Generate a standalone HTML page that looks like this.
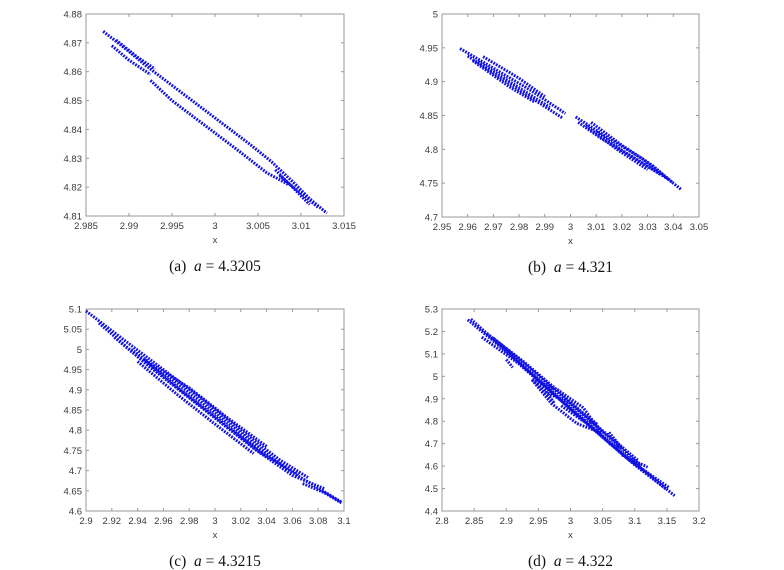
<!DOCTYPE html>
<html><head><meta charset="utf-8"><style>
html,body{margin:0;padding:0;background:#fff;}
svg{display:block;}
.tk{font-family:"Liberation Sans",sans-serif;font-size:9.5px;fill:#3a3a3a;}
.cap{font-family:"Liberation Serif",serif;font-size:15.5px;fill:#111;}
</style></head><body>
<svg id="fig" width="784" height="570" viewBox="0 0 784 570" xmlns="http://www.w3.org/2000/svg"></svg>
<script>
// ---- data ----
const panelNames = ["a","b","c","d"];
const captionValues = ["4.3205","4.321","4.3215","4.322"];
const xTicksA = [2.985,2.99,2.995,3,3.005,3.01,3.015];
const yTicksA = [4.81,4.82,4.83,4.84,4.85,4.86,4.87,4.88];
const xTicksB = [2.95,2.96,2.97,2.98,2.99,3,3.01,3.02,3.03,3.04,3.05];
const yTicksB = [4.7,4.75,4.8,4.85,4.9,4.95,5];
const xTicksC = [2.9,2.92,2.94,2.96,2.98,3,3.02,3.04,3.06,3.08,3.1];
const yTicksC = [4.6,4.65,4.7,4.75,4.8,4.85,4.9,4.95,5,5.05,5.1];
const xTicksD = [2.8,2.85,2.9,2.95,3,3.05,3.1,3.15,3.2];
const yTicksD = [4.4,4.5,4.6,4.7,4.8,4.9,5,5.1,5.2,5.3];
// strands: [x,y] pairs in data units
const strandsA = [
 [[2.987,4.874],[2.990,4.867],[2.992,4.862],[2.996,4.853],[3.000,4.844],[3.004,4.835],[3.0065,4.829],[3.009,4.822],[3.011,4.816],[3.013,4.811]],
 [[2.9925,4.857],[2.995,4.850],[2.999,4.841],[3.003,4.832],[3.006,4.825],[3.0085,4.821]],
 [[2.988,4.869],[2.990,4.864],[2.9925,4.859]],
 [[2.9885,4.871],[2.991,4.865],[2.993,4.861]],
 [[3.007,4.826],[3.009,4.820],[3.011,4.814]],
 [[3.0075,4.824],[3.0095,4.819],[3.012,4.813]]
];
const strandsB = [
 [[2.957,4.949],[2.970,4.920],[2.985,4.886],[2.998,4.853]],
 [[2.960,4.938],[2.975,4.900],[2.988,4.868],[2.997,4.846]],
 [[2.964,4.930],[2.978,4.896],[2.992,4.862]],
 [[2.966,4.937],[2.980,4.905],[2.990,4.878]],
 [[2.962,4.931],[2.976,4.893],[2.986,4.870]],
 [[3.002,4.848],[3.015,4.816],[3.028,4.786],[3.043,4.741]],
 [[3.003,4.840],[3.012,4.816],[3.025,4.787],[3.038,4.756]],
 [[3.008,4.840],[3.020,4.806],[3.032,4.776],[3.040,4.750]],
 [[3.010,4.826],[3.022,4.793],[3.035,4.763]],
 [[3.006,4.835],[3.018,4.800],[3.030,4.770]]
];
const strandsC = [
 [[2.900,5.095],[2.930,5.022],[2.960,4.950],[2.990,4.877],[3.020,4.800],[3.050,4.727],[3.072,4.683]],
 [[2.910,5.065],[2.940,4.983],[2.970,4.905],[3.000,4.830],[3.030,4.755],[3.060,4.688],[3.085,4.655]],
 [[2.922,5.030],[2.950,4.955],[2.980,4.882],[3.010,4.805],[3.040,4.740]],
 [[2.935,5.000],[2.965,4.930],[2.995,4.855],[3.025,4.780],[3.055,4.705],[3.098,4.622]],
 [[2.945,4.975],[2.975,4.895],[3.005,4.822],[3.035,4.745],[3.065,4.690]],
 [[2.950,4.965],[2.980,4.905],[3.010,4.830],[3.040,4.760]],
 [[2.940,4.970],[2.970,4.890],[3.000,4.815],[3.030,4.742]],
 [[3.068,4.668],[3.085,4.645],[3.098,4.620]]
];
const strandsD = [
 [[2.840,5.252],[2.900,5.110],[2.960,4.960],[3.020,4.810],[3.080,4.660],[3.162,4.468]],
 [[2.845,5.255],[2.905,5.100],[2.965,4.945],[3.025,4.790],[3.090,4.630],[3.153,4.505]],
 [[2.862,5.175],[2.920,5.055],[2.980,4.905],[3.040,4.755],[3.100,4.605],[3.150,4.495]],
 [[2.870,5.190],[2.925,5.070],[2.985,4.925],[3.045,4.770],[3.105,4.625]],
 [[2.880,5.170],[2.935,5.040],[2.995,4.890],[3.055,4.740],[3.110,4.600]],
 [[2.900,5.075],[2.910,5.040]],
 [[2.940,4.985],[2.975,4.880],[2.960,4.940],[2.940,4.985]],
 [[2.940,4.985],[2.980,4.940],[3.020,4.860],[3.048,4.748],[3.010,4.790],[2.970,4.880],[2.940,4.985]],
 [[2.960,4.930],[3.000,4.880],[3.040,4.790],[3.020,4.800],[2.985,4.870]],
 [[3.060,4.750],[3.080,4.680],[3.060,4.700]],
 [[3.080,4.650],[3.120,4.595]]
];
const panels = [
 {xt:xTicksA,yt:yTicksA,s:strandsA,L:86,R:344,T:14,B:216,lab:"(a)"},
 {xt:xTicksB,yt:yTicksB,s:strandsB,L:442,R:699,T:14,B:217,lab:"(b)"},
 {xt:xTicksC,yt:yTicksC,s:strandsC,L:86,R:344,T:309,B:511,lab:"(c)"},
 {xt:xTicksD,yt:yTicksD,s:strandsD,L:442,R:699,T:309,B:511,lab:"(d)"}
];
const NS="http://www.w3.org/2000/svg";
const svg=document.getElementById('fig');
function mk(t,a,p){const e=document.createElementNS(NS,t);for(const k in a)e.setAttribute(k,a[k]);(p||svg).appendChild(e);return e;}
panels.forEach((p,i)=>{
 const g=mk('g',{});
 
 
 const x0=p.xt[0],x1=p.xt[p.xt.length-1],y0=p.yt[0],y1=p.yt[p.yt.length-1];
 const sx=v=>p.L+(v-x0)/(x1-x0)*(p.R-p.L);
 const sy=v=>p.B-(v-y0)/(y1-y0)*(p.B-p.T);
 const box=mk('rect',{x:p.L,y:p.T,width:p.R-p.L,height:p.B-p.T,fill:'#fff',stroke:'#9a9a9a','stroke-width':1},g);
 
 
 p.xt.forEach(v=>{
  const X=sx(v);
  mk('line',{x1:X,x2:X,y1:p.B,y2:p.B-3,stroke:'#9a9a9a'},g);
  mk('line',{x1:X,x2:X,y1:p.T,y2:p.T+3,stroke:'#9a9a9a'},g);
  const t=mk('text',{x:X,y:p.B+13,'text-anchor':'middle',class:'tk'},g);t.textContent=String(v);
  
  
 });
 p.yt.forEach(v=>{
  const Y=sy(v);
  mk('line',{x1:p.L,x2:p.L+3,y1:Y,y2:Y,stroke:'#9a9a9a'},g);
  mk('line',{x1:p.R,x2:p.R-3,y1:Y,y2:Y,stroke:'#9a9a9a'},g);
  const t=mk('text',{x:p.L-4,y:Y+3.5,'text-anchor':'end',class:'tk'},g);t.textContent=String(v);
  
  
 });
 const xl=mk('text',{x:(p.L+p.R)/2,y:p.B+27,'text-anchor':'middle',class:'tk'},g);xl.textContent='x';
 
 
 p.s.forEach(st=>{
  const d=st.map((q,k)=>(k?'L':'M')+sx(q[0]).toFixed(1)+' '+sy(q[1]).toFixed(1)).join(' ');
  const pa=mk('path',{d:d,fill:'none',stroke:'#1010e0','stroke-width':3,'stroke-dasharray':'1.8 1.2','stroke-linejoin':'round'},g);
  
  
 });
 const cap=mk('text',{x:(p.L+p.R)/2,y:p.B+55,'text-anchor':'middle',class:'cap'},g);
 cap.innerHTML=p.lab+'&#160; <tspan font-style="italic">a</tspan> = '+captionValues[i];
 
 
});
</script>
</body></html>
